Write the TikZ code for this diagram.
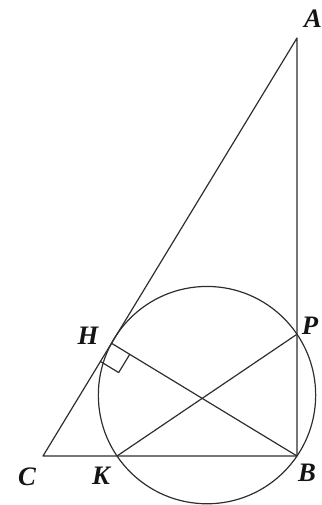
\documentclass[tikz,border=0pt]{standalone}
\usepackage{fontspec}
\setmainfont{Liberation Serif}[ItalicFont={Liberation Serif Italic}, BoldItalicFont={Liberation Serif Bold Italic}]
\usetikzlibrary{calc}
\definecolor{clrline}{HTML}{2E2E2E}
\definecolor{clrtext}{HTML}{141414}
\begin{document}
\begin{tikzpicture}[
    x=0.75pt, y=-0.75pt,
    edge/.style={draw=clrline, line width=0.9pt, line join=round},
    vlabel/.style={font=\fontsize{20}{20}\selectfont\bfseries\itshape, text=clrtext, inner sep=0pt},
]
\useasboundingbox (0,0) rectangle (321,505);
% triangle vertices
\coordinate (A) at (297,38);
\coordinate (B) at (297,456);
\coordinate (C) at (43,456);
\coordinate (H) at ($(A)!(B)!(C)$);
% circle through H, B with diameter KP
\coordinate (O) at (207,395.11);
\coordinate (K) at (117,456);
\coordinate (P) at (297,334.22);
\coordinate (sq_1) at ($(H)!16pt!(B)$);
\coordinate (sq_2) at ($(H)!16pt!(C)$);
\coordinate (sq_3) at ($(sq_1)+(sq_2)-(H)$);
\draw[edge] (A) -- (B) -- (C) -- cycle;
\draw[edge] (O) circle[radius=108.66];
\draw[edge] (H) -- (B);
\draw[edge] (K) -- (P);
\draw[edge] (sq_1) -- (sq_3) -- (sq_2);
% labels
\node[vlabel] (lbl_A) at (313,19) {A};
\node[vlabel] (lbl_P) at (310,326) {P};
\node[vlabel] (lbl_B) at (307,473) {B};
\node[vlabel] (lbl_C) at (27,477) {C};
\node[vlabel] (lbl_K) at (101,476) {K};
\node[vlabel] (lbl_H) at (88,336) {H};
\end{tikzpicture}
\end{document}
